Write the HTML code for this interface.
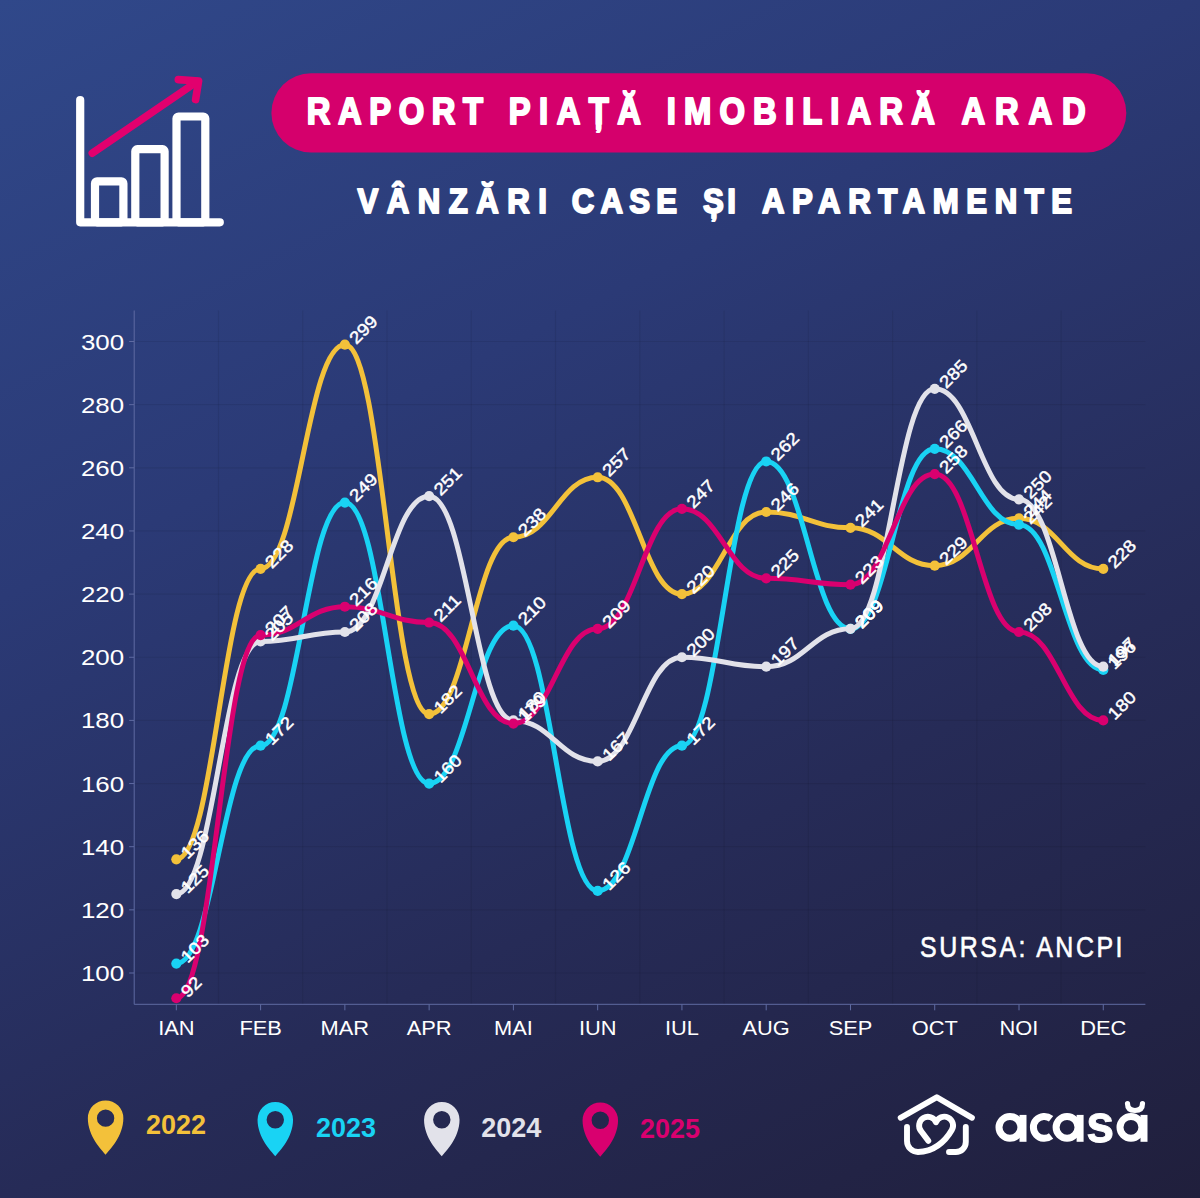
<!DOCTYPE html>
<html><head><meta charset="utf-8">
<style>
html,body{margin:0;padding:0;}
body{width:1200px;height:1198px;overflow:hidden;position:relative;
background:linear-gradient(153.4deg,#30488a 0%,#2b3a76 33.3%,#262b57 66.7%,#201f3c 100%);
font-family:"Liberation Sans",sans-serif;}
svg{position:absolute;left:0;top:0;}
.yl{font-family:"Liberation Sans",sans-serif;font-size:22.5px;fill:#fff;}
.xl{font-family:"Liberation Sans",sans-serif;font-size:19.5px;fill:#fff;}
.dl{font-family:"Liberation Sans",sans-serif;font-size:17px;fill:#fff;stroke:#fff;stroke-width:0.45px;}
.lg{font-family:"Liberation Sans",sans-serif;font-size:27px;font-weight:bold;}
.tt{font-family:"Liberation Sans",sans-serif;font-size:35px;font-weight:bold;fill:#fff;stroke:#fff;stroke-width:2px;stroke-linejoin:round;}
.src{font-family:"Liberation Sans",sans-serif;font-size:29px;fill:#fff;stroke:#fff;stroke-width:0.6px;}
.brand{font-family:"Liberation Sans",sans-serif;font-size:54px;font-weight:bold;fill:#fff;}
</style></head>
<body>
<svg width="1200" height="1198" viewBox="0 0 1200 1198">

<g fill="none" stroke="#fff" stroke-width="8.2" stroke-linecap="round" stroke-linejoin="round">
  <path d="M80.2 100 L80.2 222.3 L219.8 222.3"/>
  <rect x="95" y="181.4" width="28.4" height="40.9" rx="2"/>
  <rect x="135.3" y="149.2" width="29.3" height="73.1" rx="2"/>
  <rect x="176.5" y="116.5" width="28.8" height="105.8" rx="2"/>
</g>
<g fill="none" stroke="#e2006e" stroke-width="7.6" stroke-linecap="round" stroke-linejoin="round">
  <path d="M92.3 153.2 L197 81.6"/>
  <path d="M178.3 79.6 L198.6 81 L195.6 99.6"/>
</g>

<rect x="271.4" y="73.2" width="854.9" height="79.4" rx="39.7" fill="#d5006c"/>
<g transform="translate(306.80 125.2) scale(0.9 1)"><text x="0" y="-1" class="tt" style="font-size:36.4px" letter-spacing="8.408">RAPORT</text></g>
<g transform="translate(508.80 125.2) scale(0.9 1)"><text x="0" y="-1" class="tt" style="font-size:36.4px" letter-spacing="9.396">PIAȚĂ</text></g>
<g transform="translate(666.80 125.2) scale(0.9 1)"><text x="0" y="-1" class="tt" style="font-size:36.4px" letter-spacing="9.060">IMOBILIARĂ</text></g>
<g transform="translate(961.59 125.2) scale(0.9 1)"><text x="0" y="-1" class="tt" style="font-size:36.4px" letter-spacing="10.952">ARAD</text></g>
<g transform="translate(357.58 213.6) scale(0.9 1)"><text x="0" y="-1" class="tt" style="font-size:34.6px" letter-spacing="9.430">VÂNZĂRI</text></g>
<g transform="translate(571.74 213.6) scale(0.9 1)"><text x="0" y="-1" class="tt" style="font-size:34.6px" letter-spacing="6.978">CASE</text></g>
<g transform="translate(703.10 213.6) scale(0.9 1)"><text x="0" y="-1" class="tt" style="font-size:34.6px" letter-spacing="3.711">ȘI</text></g>
<g transform="translate(761.94 213.6) scale(0.9 1)"><text x="0" y="-1" class="tt" style="font-size:34.6px" letter-spacing="8.461">APARTAMENTE</text></g>
<line x1="134.2" y1="973.00" x2="1145.4" y2="973.00" stroke="#000" stroke-opacity="0.07" stroke-width="1.2"/>
<line x1="134.2" y1="909.85" x2="1145.4" y2="909.85" stroke="#000" stroke-opacity="0.07" stroke-width="1.2"/>
<line x1="134.2" y1="846.70" x2="1145.4" y2="846.70" stroke="#000" stroke-opacity="0.07" stroke-width="1.2"/>
<line x1="134.2" y1="783.55" x2="1145.4" y2="783.55" stroke="#000" stroke-opacity="0.07" stroke-width="1.2"/>
<line x1="134.2" y1="720.40" x2="1145.4" y2="720.40" stroke="#000" stroke-opacity="0.07" stroke-width="1.2"/>
<line x1="134.2" y1="657.25" x2="1145.4" y2="657.25" stroke="#000" stroke-opacity="0.07" stroke-width="1.2"/>
<line x1="134.2" y1="594.10" x2="1145.4" y2="594.10" stroke="#000" stroke-opacity="0.07" stroke-width="1.2"/>
<line x1="134.2" y1="530.95" x2="1145.4" y2="530.95" stroke="#000" stroke-opacity="0.07" stroke-width="1.2"/>
<line x1="134.2" y1="467.80" x2="1145.4" y2="467.80" stroke="#000" stroke-opacity="0.07" stroke-width="1.2"/>
<line x1="134.2" y1="404.65" x2="1145.4" y2="404.65" stroke="#000" stroke-opacity="0.07" stroke-width="1.2"/>
<line x1="134.2" y1="341.50" x2="1145.4" y2="341.50" stroke="#000" stroke-opacity="0.07" stroke-width="1.2"/>
<line x1="218.47" y1="310.5" x2="218.47" y2="1004.3" stroke="#000" stroke-opacity="0.07" stroke-width="1.2"/>
<line x1="302.73" y1="310.5" x2="302.73" y2="1004.3" stroke="#000" stroke-opacity="0.07" stroke-width="1.2"/>
<line x1="387.00" y1="310.5" x2="387.00" y2="1004.3" stroke="#000" stroke-opacity="0.07" stroke-width="1.2"/>
<line x1="471.27" y1="310.5" x2="471.27" y2="1004.3" stroke="#000" stroke-opacity="0.07" stroke-width="1.2"/>
<line x1="555.53" y1="310.5" x2="555.53" y2="1004.3" stroke="#000" stroke-opacity="0.07" stroke-width="1.2"/>
<line x1="639.80" y1="310.5" x2="639.80" y2="1004.3" stroke="#000" stroke-opacity="0.07" stroke-width="1.2"/>
<line x1="724.07" y1="310.5" x2="724.07" y2="1004.3" stroke="#000" stroke-opacity="0.07" stroke-width="1.2"/>
<line x1="808.33" y1="310.5" x2="808.33" y2="1004.3" stroke="#000" stroke-opacity="0.07" stroke-width="1.2"/>
<line x1="892.60" y1="310.5" x2="892.60" y2="1004.3" stroke="#000" stroke-opacity="0.07" stroke-width="1.2"/>
<line x1="976.87" y1="310.5" x2="976.87" y2="1004.3" stroke="#000" stroke-opacity="0.07" stroke-width="1.2"/>
<line x1="1061.13" y1="310.5" x2="1061.13" y2="1004.3" stroke="#000" stroke-opacity="0.07" stroke-width="1.2"/>
<line x1="134.20" y1="310.5" x2="134.20" y2="1004.3" stroke="#5f6ba2" stroke-width="1"/>
<line x1="134.20" y1="1004.3" x2="1145.40" y2="1004.3" stroke="#5f6ba2" stroke-width="1"/>
<line x1="129.2" y1="973.00" x2="134.2" y2="973.00" stroke="#5f6ba2" stroke-width="1"/>
<text x="80.9" y="981.00" class="yl" textLength="43.2" lengthAdjust="spacingAndGlyphs">100</text>
<line x1="129.2" y1="909.85" x2="134.2" y2="909.85" stroke="#5f6ba2" stroke-width="1"/>
<text x="80.9" y="917.85" class="yl" textLength="43.2" lengthAdjust="spacingAndGlyphs">120</text>
<line x1="129.2" y1="846.70" x2="134.2" y2="846.70" stroke="#5f6ba2" stroke-width="1"/>
<text x="80.9" y="854.70" class="yl" textLength="43.2" lengthAdjust="spacingAndGlyphs">140</text>
<line x1="129.2" y1="783.55" x2="134.2" y2="783.55" stroke="#5f6ba2" stroke-width="1"/>
<text x="80.9" y="791.55" class="yl" textLength="43.2" lengthAdjust="spacingAndGlyphs">160</text>
<line x1="129.2" y1="720.40" x2="134.2" y2="720.40" stroke="#5f6ba2" stroke-width="1"/>
<text x="80.9" y="728.40" class="yl" textLength="43.2" lengthAdjust="spacingAndGlyphs">180</text>
<line x1="129.2" y1="657.25" x2="134.2" y2="657.25" stroke="#5f6ba2" stroke-width="1"/>
<text x="80.9" y="665.25" class="yl" textLength="43.2" lengthAdjust="spacingAndGlyphs">200</text>
<line x1="129.2" y1="594.10" x2="134.2" y2="594.10" stroke="#5f6ba2" stroke-width="1"/>
<text x="80.9" y="602.10" class="yl" textLength="43.2" lengthAdjust="spacingAndGlyphs">220</text>
<line x1="129.2" y1="530.95" x2="134.2" y2="530.95" stroke="#5f6ba2" stroke-width="1"/>
<text x="80.9" y="538.95" class="yl" textLength="43.2" lengthAdjust="spacingAndGlyphs">240</text>
<line x1="129.2" y1="467.80" x2="134.2" y2="467.80" stroke="#5f6ba2" stroke-width="1"/>
<text x="80.9" y="475.80" class="yl" textLength="43.2" lengthAdjust="spacingAndGlyphs">260</text>
<line x1="129.2" y1="404.65" x2="134.2" y2="404.65" stroke="#5f6ba2" stroke-width="1"/>
<text x="80.9" y="412.65" class="yl" textLength="43.2" lengthAdjust="spacingAndGlyphs">280</text>
<line x1="129.2" y1="341.50" x2="134.2" y2="341.50" stroke="#5f6ba2" stroke-width="1"/>
<text x="80.9" y="349.50" class="yl" textLength="43.2" lengthAdjust="spacingAndGlyphs">300</text>
<line x1="176.33" y1="1004.3" x2="176.33" y2="1010.3" stroke="#5f6ba2" stroke-width="1"/>
<g transform="translate(176.33 1034.7) scale(1.12 1)"><text x="0" y="0" text-anchor="middle" class="xl">IAN</text></g>
<line x1="260.60" y1="1004.3" x2="260.60" y2="1010.3" stroke="#5f6ba2" stroke-width="1"/>
<g transform="translate(260.60 1034.7) scale(1.12 1)"><text x="0" y="0" text-anchor="middle" class="xl">FEB</text></g>
<line x1="344.87" y1="1004.3" x2="344.87" y2="1010.3" stroke="#5f6ba2" stroke-width="1"/>
<g transform="translate(344.87 1034.7) scale(1.12 1)"><text x="0" y="0" text-anchor="middle" class="xl">MAR</text></g>
<line x1="429.13" y1="1004.3" x2="429.13" y2="1010.3" stroke="#5f6ba2" stroke-width="1"/>
<g transform="translate(429.13 1034.7) scale(1.12 1)"><text x="0" y="0" text-anchor="middle" class="xl">APR</text></g>
<line x1="513.40" y1="1004.3" x2="513.40" y2="1010.3" stroke="#5f6ba2" stroke-width="1"/>
<g transform="translate(513.40 1034.7) scale(1.12 1)"><text x="0" y="0" text-anchor="middle" class="xl">MAI</text></g>
<line x1="597.67" y1="1004.3" x2="597.67" y2="1010.3" stroke="#5f6ba2" stroke-width="1"/>
<g transform="translate(597.67 1034.7) scale(1.12 1)"><text x="0" y="0" text-anchor="middle" class="xl">IUN</text></g>
<line x1="681.93" y1="1004.3" x2="681.93" y2="1010.3" stroke="#5f6ba2" stroke-width="1"/>
<g transform="translate(681.93 1034.7) scale(1.12 1)"><text x="0" y="0" text-anchor="middle" class="xl">IUL</text></g>
<line x1="766.20" y1="1004.3" x2="766.20" y2="1010.3" stroke="#5f6ba2" stroke-width="1"/>
<g transform="translate(766.20 1034.7) scale(1.12 1)"><text x="0" y="0" text-anchor="middle" class="xl">AUG</text></g>
<line x1="850.47" y1="1004.3" x2="850.47" y2="1010.3" stroke="#5f6ba2" stroke-width="1"/>
<g transform="translate(850.47 1034.7) scale(1.12 1)"><text x="0" y="0" text-anchor="middle" class="xl">SEP</text></g>
<line x1="934.73" y1="1004.3" x2="934.73" y2="1010.3" stroke="#5f6ba2" stroke-width="1"/>
<g transform="translate(934.73 1034.7) scale(1.12 1)"><text x="0" y="0" text-anchor="middle" class="xl">OCT</text></g>
<line x1="1019.00" y1="1004.3" x2="1019.00" y2="1010.3" stroke="#5f6ba2" stroke-width="1"/>
<g transform="translate(1019.00 1034.7) scale(1.12 1)"><text x="0" y="0" text-anchor="middle" class="xl">NOI</text></g>
<line x1="1103.27" y1="1004.3" x2="1103.27" y2="1010.3" stroke="#5f6ba2" stroke-width="1"/>
<g transform="translate(1103.27 1034.7) scale(1.12 1)"><text x="0" y="0" text-anchor="middle" class="xl">DEC</text></g>
<path d="M176.33 859.33 C214.25 859.33 222.68 568.84 260.60 568.84 C298.52 568.84 306.95 344.66 344.87 344.66 C382.79 344.66 391.21 714.09 429.13 714.09 C467.05 714.09 475.48 537.26 513.40 537.26 C551.32 537.26 559.75 477.27 597.67 477.27 C635.59 477.27 644.01 594.10 681.93 594.10 C719.85 594.10 728.28 512.00 766.20 512.00 C804.12 512.00 812.55 527.79 850.47 527.79 C888.39 527.79 896.81 565.68 934.73 565.68 C972.65 565.68 981.08 518.32 1019.00 518.32 C1056.92 518.32 1065.35 568.84 1103.27 568.84" fill="none" stroke="#f3c13a" stroke-width="5.0" stroke-linecap="round"/>
<circle cx="176.33" cy="859.33" r="5.1" fill="#f3c13a"/>
<circle cx="260.60" cy="568.84" r="5.1" fill="#f3c13a"/>
<circle cx="344.87" cy="344.66" r="5.1" fill="#f3c13a"/>
<circle cx="429.13" cy="714.09" r="5.1" fill="#f3c13a"/>
<circle cx="513.40" cy="537.26" r="5.1" fill="#f3c13a"/>
<circle cx="597.67" cy="477.27" r="5.1" fill="#f3c13a"/>
<circle cx="681.93" cy="594.10" r="5.1" fill="#f3c13a"/>
<circle cx="766.20" cy="512.00" r="5.1" fill="#f3c13a"/>
<circle cx="850.47" cy="527.79" r="5.1" fill="#f3c13a"/>
<circle cx="934.73" cy="565.68" r="5.1" fill="#f3c13a"/>
<circle cx="1019.00" cy="518.32" r="5.1" fill="#f3c13a"/>
<circle cx="1103.27" cy="568.84" r="5.1" fill="#f3c13a"/>
<path d="M176.33 963.53 C214.25 963.53 222.68 745.66 260.60 745.66 C298.52 745.66 306.95 502.53 344.87 502.53 C382.79 502.53 391.21 783.55 429.13 783.55 C467.05 783.55 475.48 625.67 513.40 625.67 C551.32 625.67 559.75 890.90 597.67 890.90 C635.59 890.90 644.01 745.66 681.93 745.66 C719.85 745.66 728.28 461.48 766.20 461.48 C804.12 461.48 812.55 628.83 850.47 628.83 C888.39 628.83 896.81 448.86 934.73 448.86 C972.65 448.86 981.08 524.63 1019.00 524.63 C1056.92 524.63 1065.35 669.88 1103.27 669.88" fill="none" stroke="#19d3f4" stroke-width="5.0" stroke-linecap="round"/>
<circle cx="176.33" cy="963.53" r="5.1" fill="#19d3f4"/>
<circle cx="260.60" cy="745.66" r="5.1" fill="#19d3f4"/>
<circle cx="344.87" cy="502.53" r="5.1" fill="#19d3f4"/>
<circle cx="429.13" cy="783.55" r="5.1" fill="#19d3f4"/>
<circle cx="513.40" cy="625.67" r="5.1" fill="#19d3f4"/>
<circle cx="597.67" cy="890.90" r="5.1" fill="#19d3f4"/>
<circle cx="681.93" cy="745.66" r="5.1" fill="#19d3f4"/>
<circle cx="766.20" cy="461.48" r="5.1" fill="#19d3f4"/>
<circle cx="850.47" cy="628.83" r="5.1" fill="#19d3f4"/>
<circle cx="934.73" cy="448.86" r="5.1" fill="#19d3f4"/>
<circle cx="1019.00" cy="524.63" r="5.1" fill="#19d3f4"/>
<circle cx="1103.27" cy="669.88" r="5.1" fill="#19d3f4"/>
<path d="M176.33 894.06 C214.25 894.06 222.68 641.46 260.60 641.46 C298.52 641.46 306.95 631.99 344.87 631.99 C382.79 631.99 391.21 496.22 429.13 496.22 C467.05 496.22 475.48 720.40 513.40 720.40 C551.32 720.40 559.75 761.45 597.67 761.45 C635.59 761.45 644.01 657.25 681.93 657.25 C719.85 657.25 728.28 666.72 766.20 666.72 C804.12 666.72 812.55 628.83 850.47 628.83 C888.39 628.83 896.81 388.86 934.73 388.86 C972.65 388.86 981.08 499.37 1019.00 499.37 C1056.92 499.37 1065.35 666.72 1103.27 666.72" fill="none" stroke="#e2e2ea" stroke-width="5.0" stroke-linecap="round"/>
<circle cx="176.33" cy="894.06" r="5.1" fill="#e2e2ea"/>
<circle cx="260.60" cy="641.46" r="5.1" fill="#e2e2ea"/>
<circle cx="344.87" cy="631.99" r="5.1" fill="#e2e2ea"/>
<circle cx="429.13" cy="496.22" r="5.1" fill="#e2e2ea"/>
<circle cx="513.40" cy="720.40" r="5.1" fill="#e2e2ea"/>
<circle cx="597.67" cy="761.45" r="5.1" fill="#e2e2ea"/>
<circle cx="681.93" cy="657.25" r="5.1" fill="#e2e2ea"/>
<circle cx="766.20" cy="666.72" r="5.1" fill="#e2e2ea"/>
<circle cx="850.47" cy="628.83" r="5.1" fill="#e2e2ea"/>
<circle cx="934.73" cy="388.86" r="5.1" fill="#e2e2ea"/>
<circle cx="1019.00" cy="499.37" r="5.1" fill="#e2e2ea"/>
<circle cx="1103.27" cy="666.72" r="5.1" fill="#e2e2ea"/>
<path d="M176.33 998.26 C214.25 998.26 222.68 635.15 260.60 635.15 C298.52 635.15 306.95 606.73 344.87 606.73 C382.79 606.73 391.21 622.52 429.13 622.52 C467.05 622.52 475.48 723.56 513.40 723.56 C551.32 723.56 559.75 628.83 597.67 628.83 C635.59 628.83 644.01 508.85 681.93 508.85 C719.85 508.85 728.28 578.31 766.20 578.31 C804.12 578.31 812.55 584.63 850.47 584.63 C888.39 584.63 896.81 474.11 934.73 474.11 C972.65 474.11 981.08 631.99 1019.00 631.99 C1056.92 631.99 1065.35 720.40 1103.27 720.40" fill="none" stroke="#d9006f" stroke-width="5.0" stroke-linecap="round"/>
<circle cx="176.33" cy="998.26" r="5.1" fill="#d9006f"/>
<circle cx="260.60" cy="635.15" r="5.1" fill="#d9006f"/>
<circle cx="344.87" cy="606.73" r="5.1" fill="#d9006f"/>
<circle cx="429.13" cy="622.52" r="5.1" fill="#d9006f"/>
<circle cx="513.40" cy="723.56" r="5.1" fill="#d9006f"/>
<circle cx="597.67" cy="628.83" r="5.1" fill="#d9006f"/>
<circle cx="681.93" cy="508.85" r="5.1" fill="#d9006f"/>
<circle cx="766.20" cy="578.31" r="5.1" fill="#d9006f"/>
<circle cx="850.47" cy="584.63" r="5.1" fill="#d9006f"/>
<circle cx="934.73" cy="474.11" r="5.1" fill="#d9006f"/>
<circle cx="1019.00" cy="631.99" r="5.1" fill="#d9006f"/>
<circle cx="1103.27" cy="720.40" r="5.1" fill="#d9006f"/>
<g transform="translate(187.83 859.63) rotate(-45) scale(1.12 1)"><text x="0" y="0" class="dl">136</text></g>
<g transform="translate(272.10 569.14) rotate(-45) scale(1.12 1)"><text x="0" y="0" class="dl">228</text></g>
<g transform="translate(356.37 344.96) rotate(-45) scale(1.12 1)"><text x="0" y="0" class="dl">299</text></g>
<g transform="translate(440.63 714.38) rotate(-45) scale(1.12 1)"><text x="0" y="0" class="dl">182</text></g>
<g transform="translate(524.90 537.56) rotate(-45) scale(1.12 1)"><text x="0" y="0" class="dl">238</text></g>
<g transform="translate(609.17 477.57) rotate(-45) scale(1.12 1)"><text x="0" y="0" class="dl">257</text></g>
<g transform="translate(693.43 594.40) rotate(-45) scale(1.12 1)"><text x="0" y="0" class="dl">220</text></g>
<g transform="translate(777.70 512.30) rotate(-45) scale(1.12 1)"><text x="0" y="0" class="dl">246</text></g>
<g transform="translate(861.97 528.09) rotate(-45) scale(1.12 1)"><text x="0" y="0" class="dl">241</text></g>
<g transform="translate(946.23 565.98) rotate(-45) scale(1.12 1)"><text x="0" y="0" class="dl">229</text></g>
<g transform="translate(1030.50 518.62) rotate(-45) scale(1.12 1)"><text x="0" y="0" class="dl">244</text></g>
<g transform="translate(1114.77 569.14) rotate(-45) scale(1.12 1)"><text x="0" y="0" class="dl">228</text></g>
<g transform="translate(187.83 963.83) rotate(-45) scale(1.12 1)"><text x="0" y="0" class="dl">103</text></g>
<g transform="translate(272.10 745.96) rotate(-45) scale(1.12 1)"><text x="0" y="0" class="dl">172</text></g>
<g transform="translate(356.37 502.83) rotate(-45) scale(1.12 1)"><text x="0" y="0" class="dl">249</text></g>
<g transform="translate(440.63 783.85) rotate(-45) scale(1.12 1)"><text x="0" y="0" class="dl">160</text></g>
<g transform="translate(524.90 625.97) rotate(-45) scale(1.12 1)"><text x="0" y="0" class="dl">210</text></g>
<g transform="translate(609.17 891.20) rotate(-45) scale(1.12 1)"><text x="0" y="0" class="dl">126</text></g>
<g transform="translate(693.43 745.96) rotate(-45) scale(1.12 1)"><text x="0" y="0" class="dl">172</text></g>
<g transform="translate(777.70 461.78) rotate(-45) scale(1.12 1)"><text x="0" y="0" class="dl">262</text></g>
<g transform="translate(861.97 629.13) rotate(-45) scale(1.12 1)"><text x="0" y="0" class="dl">209</text></g>
<g transform="translate(946.23 449.16) rotate(-45) scale(1.12 1)"><text x="0" y="0" class="dl">266</text></g>
<g transform="translate(1030.50 524.93) rotate(-45) scale(1.12 1)"><text x="0" y="0" class="dl">242</text></g>
<g transform="translate(1114.77 670.18) rotate(-45) scale(1.12 1)"><text x="0" y="0" class="dl">196</text></g>
<g transform="translate(187.83 894.36) rotate(-45) scale(1.12 1)"><text x="0" y="0" class="dl">125</text></g>
<g transform="translate(272.10 641.76) rotate(-45) scale(1.12 1)"><text x="0" y="0" class="dl">205</text></g>
<g transform="translate(356.37 632.29) rotate(-45) scale(1.12 1)"><text x="0" y="0" class="dl">208</text></g>
<g transform="translate(440.63 496.52) rotate(-45) scale(1.12 1)"><text x="0" y="0" class="dl">251</text></g>
<g transform="translate(524.90 720.70) rotate(-45) scale(1.12 1)"><text x="0" y="0" class="dl">180</text></g>
<g transform="translate(609.17 761.75) rotate(-45) scale(1.12 1)"><text x="0" y="0" class="dl">167</text></g>
<g transform="translate(693.43 657.55) rotate(-45) scale(1.12 1)"><text x="0" y="0" class="dl">200</text></g>
<g transform="translate(777.70 667.02) rotate(-45) scale(1.12 1)"><text x="0" y="0" class="dl">197</text></g>
<g transform="translate(861.97 629.13) rotate(-45) scale(1.12 1)"><text x="0" y="0" class="dl">209</text></g>
<g transform="translate(946.23 389.16) rotate(-45) scale(1.12 1)"><text x="0" y="0" class="dl">285</text></g>
<g transform="translate(1030.50 499.67) rotate(-45) scale(1.12 1)"><text x="0" y="0" class="dl">250</text></g>
<g transform="translate(1114.77 667.02) rotate(-45) scale(1.12 1)"><text x="0" y="0" class="dl">197</text></g>
<g transform="translate(187.83 998.56) rotate(-45) scale(1.12 1)"><text x="0" y="0" class="dl">92</text></g>
<g transform="translate(272.10 635.45) rotate(-45) scale(1.12 1)"><text x="0" y="0" class="dl">207</text></g>
<g transform="translate(356.37 607.03) rotate(-45) scale(1.12 1)"><text x="0" y="0" class="dl">216</text></g>
<g transform="translate(440.63 622.82) rotate(-45) scale(1.12 1)"><text x="0" y="0" class="dl">211</text></g>
<g transform="translate(524.90 723.86) rotate(-45) scale(1.12 1)"><text x="0" y="0" class="dl">179</text></g>
<g transform="translate(609.17 629.13) rotate(-45) scale(1.12 1)"><text x="0" y="0" class="dl">209</text></g>
<g transform="translate(693.43 509.15) rotate(-45) scale(1.12 1)"><text x="0" y="0" class="dl">247</text></g>
<g transform="translate(777.70 578.61) rotate(-45) scale(1.12 1)"><text x="0" y="0" class="dl">225</text></g>
<g transform="translate(861.97 584.93) rotate(-45) scale(1.12 1)"><text x="0" y="0" class="dl">223</text></g>
<g transform="translate(946.23 474.41) rotate(-45) scale(1.12 1)"><text x="0" y="0" class="dl">258</text></g>
<g transform="translate(1030.50 632.29) rotate(-45) scale(1.12 1)"><text x="0" y="0" class="dl">208</text></g>
<g transform="translate(1114.77 720.70) rotate(-45) scale(1.12 1)"><text x="0" y="0" class="dl">180</text></g>
<g transform="translate(920 957.3) scale(0.86 1)"><text x="0" y="0" class="src" textLength="235.5" lengthAdjust="spacing">SURSA: ANCPI</text></g>
<path d="M105.60 1154.65 C101.60 1149.65 87.85 1136.15 87.85 1118.15 A17.75 17.75 0 1 1 123.35 1118.15 C123.35 1136.15 109.60 1149.65 105.60 1154.65 Z M96.90 1118.15 a8.7 8.7 0 1 0 17.4 0 a8.7 8.7 0 1 0 -17.4 0Z" fill="#f3c13a" fill-rule="evenodd"/>
<text x="146.0" y="1134.3" class="lg" fill="#f3c13a" textLength="60" lengthAdjust="spacingAndGlyphs">2022</text>
<path d="M275.30 1156.25 C271.30 1151.25 257.55 1137.75 257.55 1119.75 A17.75 17.75 0 1 1 293.05 1119.75 C293.05 1137.75 279.30 1151.25 275.30 1156.25 Z M266.60 1119.75 a8.7 8.7 0 1 0 17.4 0 a8.7 8.7 0 1 0 -17.4 0Z" fill="#19d3f4" fill-rule="evenodd"/>
<text x="316.0" y="1137.3" class="lg" fill="#19d3f4" textLength="60" lengthAdjust="spacingAndGlyphs">2023</text>
<path d="M441.80 1156.25 C437.80 1151.25 424.05 1137.75 424.05 1119.75 A17.75 17.75 0 1 1 459.55 1119.75 C459.55 1137.75 445.80 1151.25 441.80 1156.25 Z M433.10 1119.75 a8.7 8.7 0 1 0 17.4 0 a8.7 8.7 0 1 0 -17.4 0Z" fill="#e2e2ea" fill-rule="evenodd"/>
<text x="481.3" y="1137.0" class="lg" fill="#e2e2ea" textLength="60" lengthAdjust="spacingAndGlyphs">2024</text>
<path d="M600.30 1156.75 C596.30 1151.75 582.55 1138.25 582.55 1120.25 A17.75 17.75 0 1 1 618.05 1120.25 C618.05 1138.25 604.30 1151.75 600.30 1156.75 Z M591.60 1120.25 a8.7 8.7 0 1 0 17.4 0 a8.7 8.7 0 1 0 -17.4 0Z" fill="#d9006f" fill-rule="evenodd"/>
<text x="640.0" y="1138.0" class="lg" fill="#d9006f" textLength="60" lengthAdjust="spacingAndGlyphs">2025</text>

<g fill="none" stroke="#fff" stroke-width="5.9" stroke-linecap="round" stroke-linejoin="round">
  <path d="M900.7 1117.7 L936.8 1097.2 L971.9 1117.7"/>
  <path d="M907 1127 L907 1141 A11 11 0 0 0 918 1152 C933 1152 945 1142 951.8 1130 A8.8 8.8 0 1 0 936.05 1122.3 A8.8 8.8 0 1 0 921.16 1131.26 L928.3 1140.8"/>
  <path d="M965.8 1127 L965.8 1142 A10 10 0 0 1 955.8 1152 L949 1152"/>
</g>

<ellipse cx="1009.95" cy="1127.35" rx="10.95" ry="10.95" fill="none" stroke="#fff" stroke-width="7.0"/><line x1="1023.00" y1="1114.90" x2="1023.00" y2="1141.80" stroke="#fff" stroke-width="7.0"/>
<path d="M1051.09 1118.72 A10.95 10.95 0 1 0 1051.09 1135.98" fill="none" stroke="#fff" stroke-width="7.0"/>
<ellipse cx="1067.05" cy="1127.35" rx="10.95" ry="10.95" fill="none" stroke="#fff" stroke-width="7.0"/><line x1="1080.10" y1="1114.90" x2="1080.10" y2="1141.80" stroke="#fff" stroke-width="7.0"/>
<ellipse cx="1130.95" cy="1127.35" rx="10.95" ry="10.95" fill="none" stroke="#fff" stroke-width="7.0"/><line x1="1144.00" y1="1114.90" x2="1144.00" y2="1141.80" stroke="#fff" stroke-width="7.0"/>
<g transform="translate(1086.3 1141.6) scale(0.93 1)"><text x="0" y="0" class="brand" style="font-size:54px;stroke:#fff;stroke-width:0.9px">s</text></g>
<path d="M1127.5 1103.5 Q1127.5 1110.5 1135 1110.5 Q1142.5 1110.5 1142.5 1103.5" fill="none" stroke="#fff" stroke-width="5.2" stroke-linecap="round"/>
</svg>
</body></html>
